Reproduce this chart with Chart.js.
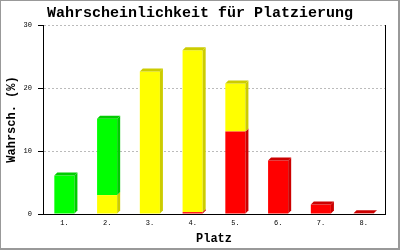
<!DOCTYPE html>
<html>
<head>
<meta charset="utf-8">
<script src="https://cdn.jsdelivr.net/npm/chart.js@4/dist/chart.umd.min.js"></script>
<style>
html,body{margin:0;padding:0;background:#fff;}
canvas{display:block;}
</style>
</head>
<body>
<canvas id="c" width="400" height="250"></canvas>
<script>
const categories = ["1.", "2.", "3.", "4.", "5.", "6.", "7.", "8."];
const redValues = [0, 0, 0, 0.3, 13.1, 8.5, 1.5, 0.1];
const yellowValues = [0, 3.0, 22.6, 25.7, 7.6, 0, 0, 0];
const greenValues = [6.1, 12.1, 0, 0, 0, 0, 0, 0];
const yTicks = [0, 10, 20, 30];

const FONT = "'Liberation Mono', 'DejaVu Sans Mono', monospace";
const sideColors = ["#cc0000", "#cccc00", "#00cc00"];

const depthPlugin = {
  id: 'depth3d',
  afterDatasetsDraw(chart) {
    const ctx = chart.ctx;
    const dx = 3, dy = 3;
    const n = chart.data.labels.length;
    const dsCount = chart.data.datasets.length;
    ctx.save();
    for (let i = 0; i < n; i++) {
      let topDs = -1;
      for (let d = 0; d < dsCount; d++) {
        if (chart.data.datasets[d].data[i] > 0) topDs = d;
      }
      for (let d = 0; d < dsCount; d++) {
        const v = chart.data.datasets[d].data[i];
        if (!(v > 0)) continue;
        const el = chart.getDatasetMeta(d).data[i];
        const p = el.getProps(['x', 'y', 'base', 'width'], true);
        const L = p.x - p.width / 2, R = p.x + p.width / 2;
        const yt = Math.min(p.y, p.base), yb = Math.max(p.y, p.base);
        ctx.fillStyle = sideColors[d];
        ctx.beginPath();
        ctx.moveTo(R, yb);
        ctx.lineTo(R, yt);
        ctx.lineTo(R + dx, yt - dy);
        ctx.lineTo(R + dx, yb - dy);
        ctx.closePath();
        ctx.fill();
        if (d === topDs) {
          ctx.beginPath();
          ctx.moveTo(L, yt);
          ctx.lineTo(R, yt);
          ctx.lineTo(R + dx, yt - dy);
          ctx.lineTo(L + dx, yt - dy);
          ctx.closePath();
          ctx.fill();
        }
      }
    }
    const a = chart.chartArea;
    ctx.strokeStyle = '#000';
    ctx.lineWidth = 1;
    ctx.beginPath();
    ctx.moveTo(Math.round(a.right) + 0.5, a.top);
    ctx.lineTo(Math.round(a.right) + 0.5, a.bottom);
    ctx.stroke();
    ctx.restore();
  },
  afterDraw(chart) {
    const ctx = chart.ctx;
    ctx.save();
    ctx.fillStyle = '#999999';
    ctx.fillRect(0, 0, 400, 1);
    ctx.fillRect(0, 0, 1, 250);
    ctx.fillRect(398, 0, 2, 250);
    ctx.fillRect(0, 248, 400, 2);
    ctx.restore();
  }
};

new Chart(document.getElementById('c'), {
  type: 'bar',
  data: {
    labels: categories,
    datasets: [
      { label: 'rot', data: redValues, backgroundColor: '#ff0000' },
      { label: 'gelb', data: yellowValues, backgroundColor: '#ffff00' },
      { label: 'grün', data: greenValues, backgroundColor: '#00ff00' }
    ]
  },
  options: {
    responsive: false,
    animation: false,
    events: [],
    layout: { padding: 0 },
    datasets: { bar: { categoryPercentage: 1, barPercentage: 0.47, borderWidth: 0 } },
    plugins: {
      legend: { display: false },
      tooltip: { enabled: false },
      title: {
        display: true,
        text: 'Wahrscheinlichkeit für Platzierung',
        color: '#000',
        font: { family: FONT, size: 15, weight: 'bold', lineHeight: 1.2 },
        padding: { top: 4, bottom: 3 }
      }
    },
    scales: {
      x: {
        stacked: true,
        grid: { display: false, drawTicks: false },
        border: { display: true, color: '#000', width: 1 },
        ticks: { color: '#000', font: { family: FONT, size: 7 }, padding: 5 },
        title: {
          display: true, text: 'Platz', color: '#000',
          font: { family: FONT, size: 12, weight: 'bold' },
          padding: { top: 4, bottom: 4 }
        },
        afterFit(s) { s.height = 36; }
      },
      y: {
        stacked: true,
        min: 0, max: 30,
        afterBuildTicks(s) { s.ticks = yTicks.map(v => ({ value: v })); },
        grid: {
          color: '#bbbbbb', tickColor: '#000', tickLength: 5, tickBorderDash: [],
          lineWidth: 1
        },
        border: { display: true, color: '#000', width: 1, dash: [2, 2] },
        ticks: { color: '#000', font: { family: FONT, size: 7 }, padding: 6 },
        title: {
          display: true, text: 'Wahrsch. (%)', color: '#000',
          font: { family: FONT, size: 12, weight: 'bold' },
          padding: { top: 5, bottom: 2 }
        },
        afterFit(s) { s.width = 43; }
      },
      yR: {
        position: 'right',
        min: 0, max: 30,
        display: true,
        grid: { display: false, drawTicks: false },
        border: { display: false },
        ticks: { display: false },
        afterFit(s) { s.width = 15; }
      }
    }
  },
  plugins: [depthPlugin]
});
</script>
</body>
</html>
